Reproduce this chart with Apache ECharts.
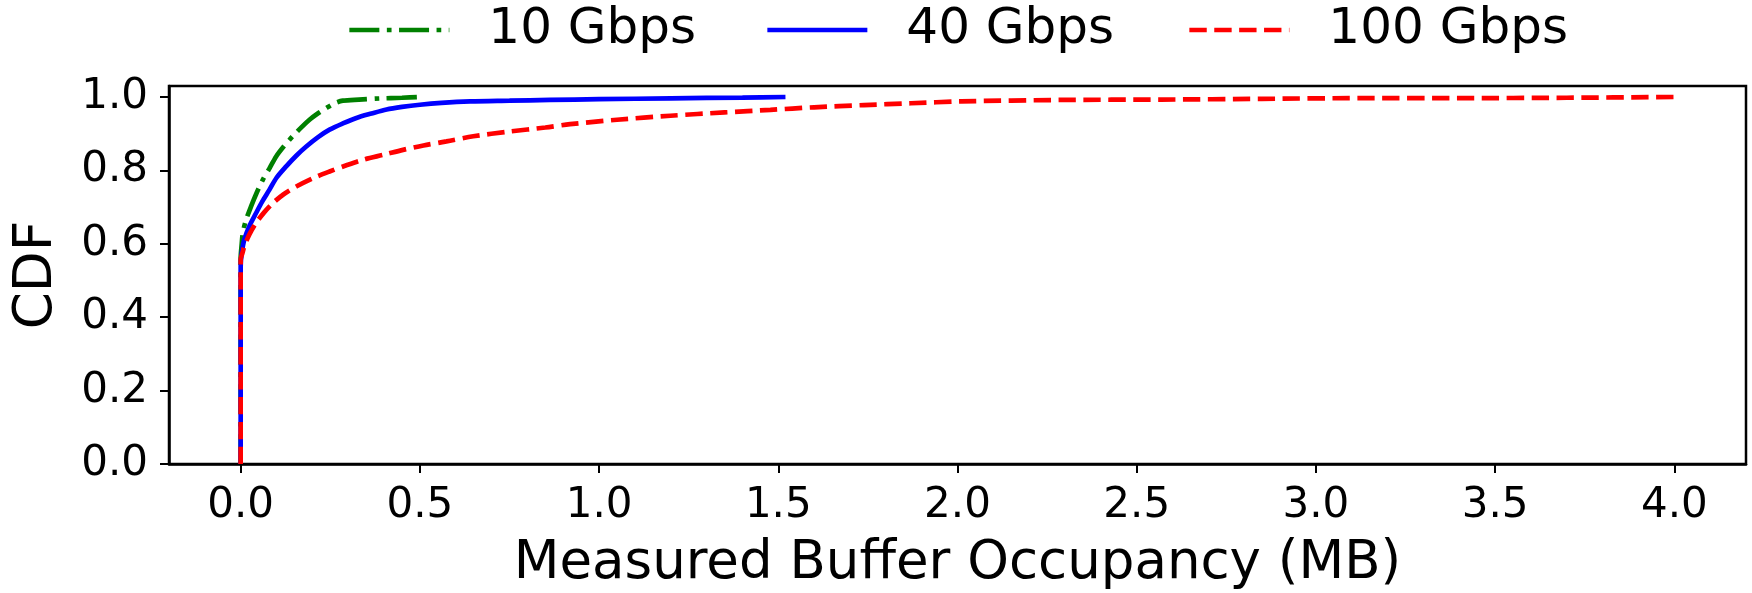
<!DOCTYPE html>
<html>
<head>
<meta charset="utf-8">
<title>Measured Buffer Occupancy CDF</title>
<script src="https://cdn.jsdelivr.net/npm/echarts@6/dist/echarts.min.js"></script>
<style>
  html, body { margin: 0; padding: 0; background: #ffffff; }
  #chart { width: 1752px; height: 593px; }
</style>
</head>
<body>
<div id="chart"></div>
<script>
// Link speeds shown in the legend
const seriesNames = ['10 Gbps', '40 Gbps', '100 Gbps'];

// CDF samples: [buffer occupancy (MB), cumulative fraction]
const cdf10G = [
  [0, 0], [0, 0.56], [0.003, 0.60], [0.006, 0.63], [0.015, 0.665], [0.029, 0.702],
  [0.045, 0.74], [0.062, 0.775], [0.08, 0.805], [0.099, 0.838], [0.12, 0.865],
  [0.145, 0.893], [0.17, 0.918], [0.192, 0.938], [0.215, 0.955], [0.239, 0.97],
  [0.26, 0.982], [0.285, 0.99], [0.33, 0.993], [0.388, 0.996], [0.45, 0.998], [0.5, 1.0]
];
const cdf40G = [
  [0, 0], [0, 0.54], [0.003, 0.575], [0.01, 0.611], [0.025, 0.65], [0.043, 0.684],
  [0.06, 0.715], [0.08, 0.747], [0.1, 0.78], [0.127, 0.811], [0.155, 0.84],
  [0.183, 0.865], [0.215, 0.89], [0.248, 0.911], [0.285, 0.928], [0.323, 0.943],
  [0.365, 0.955], [0.407, 0.966], [0.45, 0.973], [0.5, 0.979], [0.56, 0.984],
  [0.64, 0.988], [0.75, 0.990], [0.863, 0.992], [1.0, 0.994], [1.2, 0.9965],
  [1.4, 0.9985], [1.52, 1.0]
];
const cdf100G = [
  [0, 0], [0, 0.557], [0.005, 0.575], [0.01, 0.593], [0.024, 0.625], [0.043, 0.657],
  [0.065, 0.685], [0.09, 0.711], [0.12, 0.735], [0.155, 0.756], [0.2, 0.778],
  [0.248, 0.797], [0.295, 0.814], [0.341, 0.829], [0.4, 0.843], [0.453, 0.856],
  [0.51, 0.868], [0.574, 0.879], [0.649, 0.893], [0.75, 0.906], [0.85, 0.917],
  [0.919, 0.926], [1.05, 0.938], [1.199, 0.949], [1.35, 0.958], [1.478, 0.965],
  [1.6, 0.972], [1.739, 0.978], [1.87, 0.983], [2.01, 0.988], [2.289, 0.992],
  [2.569, 0.993], [2.849, 0.995], [3.128, 0.997], [3.4, 0.997], [3.7, 0.998], [4.0, 1.0]
];

// Axis ticks
const xTicks = [0.0, 0.5, 1.0, 1.5, 2.0, 2.5, 3.0, 3.5, 4.0];
const yTicks = [0.0, 0.2, 0.4, 0.6, 0.8, 1.0];

const FONT = 'DejaVu Sans';
const LW = 4.7;

const chart = echarts.init(document.getElementById('chart'), null, { renderer: 'canvas' });

// One legend block per entry so each sits at its own offset
function legendAt(left, name) {
  return {
    left: left,
    top: 0,
    padding: 0,
    itemWidth: 100,
    itemHeight: 14,
    data: [name],
    selectedMode: false,
    itemStyle: { opacity: 0 },
    lineStyle: { width: LW },
    textStyle: {
      fontFamily: FONT,
      fontSize: 50,
      color: '#000',
      lineHeight: 60,
      padding: [0, 0, 0, 34]
    }
  };
}

const option = {
  backgroundColor: '#ffffff',
  animation: false,
  legend: [
    legendAt(347, seriesNames[0]),
    legendAt(765, seriesNames[1]),
    legendAt(1187, seriesNames[2])
  ],
  grid: {
    left: 169, right: 6, top: 86, bottom: 129,
    show: true, borderColor: '#000', borderWidth: 2.5,
    containLabel: false,
    outerBoundsMode: 'none'
  },
  xAxis: {
    type: 'value',
    min: -0.2, max: 4.2,
    name: 'Measured Buffer Occupancy (MB)',
    nameLocation: 'middle',
    nameGap: 74,
    nameTextStyle: { fontFamily: FONT, fontSize: 53, color: '#000' },
    axisLine: { show: true, onZero: false, lineStyle: { color: '#000', width: 2.5 } },
    axisTick: { show: true, length: 9, lineStyle: { color: '#000', width: 2 }, customValues: xTicks },
    axisLabel: {
      fontFamily: FONT, fontSize: 42, color: '#000', margin: 21,
      customValues: xTicks,
      formatter: v => v.toFixed(1)
    },
    splitLine: { show: false }
  },
  yAxis: {
    type: 'value',
    min: 0, max: 1.03,
    name: 'CDF',
    nameLocation: 'middle',
    nameGap: 105,
    nameTextStyle: { fontFamily: FONT, fontSize: 53, color: '#000' },
    axisLine: { show: true, onZero: false, lineStyle: { color: '#000', width: 2.5 } },
    axisTick: { show: true, length: 9, lineStyle: { color: '#000', width: 2 }, customValues: yTicks },
    axisLabel: {
      fontFamily: FONT, fontSize: 42, color: '#000', margin: 21,
      customValues: yTicks,
      formatter: v => v.toFixed(1)
    },
    splitLine: { show: false }
  },
  series: [
    {
      name: seriesNames[0], type: 'line', data: cdf10G,
      symbol: 'none', showSymbol: false, smooth: 0.3,
      itemStyle: { color: '#008000' },
      lineStyle: { color: '#008000', width: LW, type: [30, 7.5, 4.7, 7.5], cap: 'butt' }
    },
    {
      name: seriesNames[1], type: 'line', data: cdf40G,
      symbol: 'none', showSymbol: false, smooth: 0.3,
      itemStyle: { color: '#0000ff' },
      lineStyle: { color: '#0000ff', width: LW, type: 'solid', cap: 'butt' }
    },
    {
      name: seriesNames[2], type: 'line', data: cdf100G,
      symbol: 'none', showSymbol: false, smooth: 0.3,
      itemStyle: { color: '#ff0000' },
      lineStyle: { color: '#ff0000', width: LW, type: [17.4, 7.5], cap: 'butt' }
    }
  ]
};

chart.setOption(option);
</script>
</body>
</html>
